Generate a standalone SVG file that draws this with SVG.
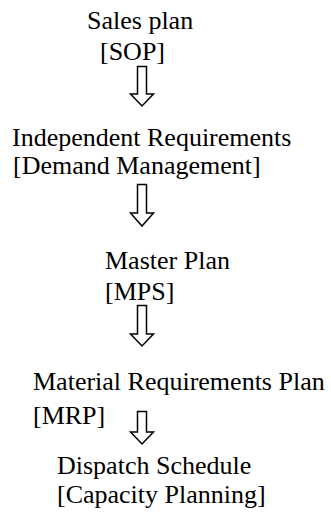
<svg xmlns="http://www.w3.org/2000/svg" width="331" height="514" viewBox="0 0 331 514">
<style>
text{font-family:"Liberation Serif","Times New Roman",serif;font-size:26px;fill:#000}
.arr{fill:#fff;stroke:#000;stroke-width:1.5;stroke-linejoin:miter}
</style>
<rect width="331" height="514" fill="#fff"/>
<g id="sop"><text x="87" y="29">Sales plan</text><text x="100" y="60">[SOP]</text></g>
<g id="demand"><text x="12" y="146">Independent Requirements</text><text x="13" y="174">[Demand Management]</text></g>
<g id="mps"><text x="105" y="269">Master Plan</text><text x="105" y="300">[MPS]</text></g>
<g id="mrp"><text x="33" y="390">Material Requirements Plan</text><text x="33" y="424">[MRP]</text></g>
<g id="capacity"><text x="57" y="474">Dispatch Schedule</text><text x="57" y="503">[Capacity Planning]</text></g>
<g id="connectors">
<path class="arr" d="M137.5 66.5H146.5V94H153.5L142 106L130.5 94H137.5Z"/>
<path class="arr" d="M137.5 184.5H146.5V213H153.5L142 226L130.5 213H137.5Z"/>
<path class="arr" d="M137.5 305.5H146.5V334H153.5L142 346L130.5 334H137.5Z"/>
<path class="arr" d="M137.5 411.5H146.5V432H153.5L142 444L130.5 432H137.5Z"/>
</g>
</svg>
